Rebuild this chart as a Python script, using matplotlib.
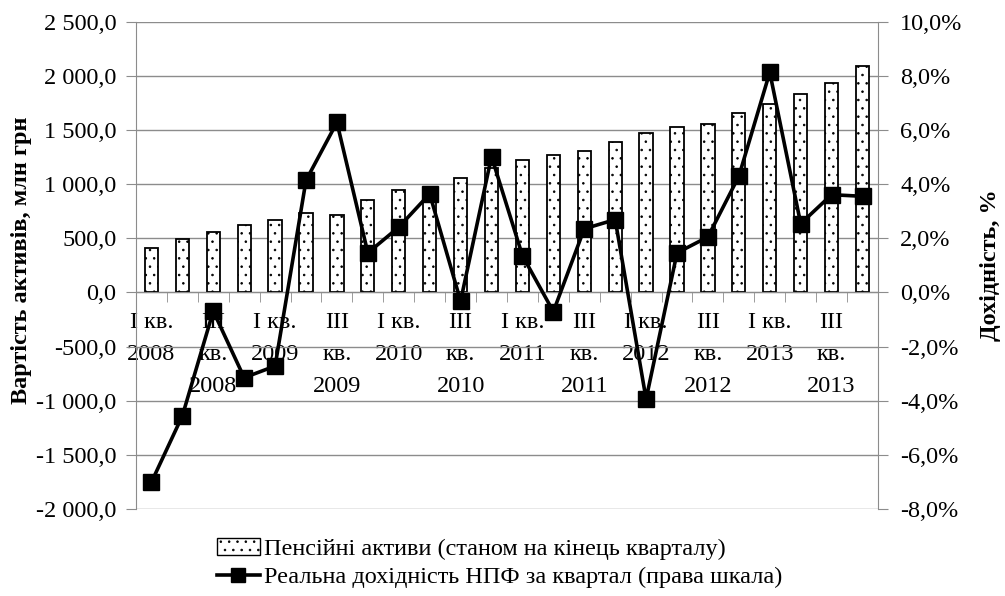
import numpy as np
import matplotlib
matplotlib.use("Agg")
import matplotlib.pyplot as plt
from matplotlib.ticker import FuncFormatter, FixedLocator
from matplotlib.lines import Line2D
from matplotlib.patches import Patch

plt.rcParams['font.family'] = ['Liberation Serif', 'DejaVu Serif']
plt.rcParams['font.size'] = 17.5
plt.rcParams['hatch.linewidth'] = 0.6

quarters = ["I кв.\n2008", "II кв.\n2008", "III\nкв.\n2008", "IV кв.\n2008",
            "I кв.\n2009", "II кв.\n2009", "III\nкв.\n2009", "IV кв.\n2009",
            "I кв.\n2010", "II кв.\n2010", "III\nкв.\n2010", "IV кв.\n2010",
            "I кв.\n2011", "II кв.\n2011", "III\nкв.\n2011", "IV кв.\n2011",
            "I кв.\n2012", "II кв.\n2012", "III\nкв.\n2012", "IV кв.\n2012",
            "I кв.\n2013", "II кв.\n2013", "III\nкв.\n2013", "IV кв.\n2013"]

# pension assets, mln UAH (end of quarter)
assets = [412, 489, 556, 621, 671, 735, 717, 858, 944, 905, 1058, 1150,
          1221, 1270, 1310, 1393, 1470, 1528, 1556, 1658, 1737, 1830, 1937, 2091]

# real quarterly return of NPF, %
returns = [-7.01, -4.56, -0.69, -3.15, -2.72, 4.14, 6.28, 1.46, 2.41, 3.64, -0.32, 5.02,
           1.36, -0.71, 2.35, 2.69, -3.94, 1.46, 2.05, 4.29, 8.13, 2.54, 3.61, 3.55]

grey = '#8c8c8c'
x = np.arange(len(quarters))

fig = plt.figure(figsize=(10.05, 5.96), dpi=100)
ax = fig.add_axes([0.1353, 0.146, 0.7383, 0.8176])
ax2 = ax.twinx()

ax.bar(x, assets, width=0.43, color='white', edgecolor='black', linewidth=1.3,
       hatch='..', zorder=2)
ax.set_ylim(-2000, 2500)
ax.set_yticks(np.arange(-2000, 2501, 500))
ax.set_xlim(-0.5, len(quarters) - 0.5)
ax.grid(axis='y', color=grey, linewidth=1, zorder=0)
ax.set_axisbelow(True)


def fmt_left(v, pos):
    s = f"{abs(v):,.1f}".replace(",", " ").replace(".", ",")
    return ("-" if v < 0 else "") + s


ax.yaxis.set_major_formatter(FuncFormatter(fmt_left))
ax.tick_params(axis='y', direction='out', length=7, color=grey, pad=7)

ax.spines['bottom'].set_position(('data', 0))
ax.spines['bottom'].set_color(grey)
ax.spines['left'].set_color(grey)
ax.spines['top'].set_visible(False)
ax.spines['right'].set_visible(False)

# only every second quarter is labelled
ax.xaxis.set_major_locator(FixedLocator(x[::2]))
ax.set_xticklabels(quarters[::2], linespacing=1.68, va='top')
ax.xaxis.set_minor_locator(FixedLocator(np.arange(-0.5, len(quarters), 1.0)))
ax.tick_params(axis='x', which='major', length=0, pad=14)
ax.tick_params(axis='x', which='minor', direction='out', length=7, color=grey)

ax2.plot(x, returns, color='black', linewidth=2.6, marker='s', markersize=12,
         markerfacecolor='black', zorder=3)
ax2.set_ylim(-8, 10)
ax2.set_yticks(np.arange(-8, 10.1, 2))
ax2.yaxis.set_major_formatter(FuncFormatter(lambda v, p: f"{v:.1f}%".replace(".", ",")))
ax2.tick_params(axis='y', direction='out', length=7, color=grey, pad=9)
for s in ['top', 'bottom', 'left']:
    ax2.spines[s].set_visible(False)
ax2.spines['right'].set_color(grey)

ax.set_ylabel("Вартість активів, млн грн", fontweight='bold')
ax.yaxis.set_label_coords(-0.140, 0.51)
ax2.set_ylabel("Дохідність, %", fontweight='bold', rotation=90)
ax2.yaxis.set_label_coords(1.137, 0.5)

handles = [Patch(facecolor='white', edgecolor='black', hatch='..', linewidth=1.0),
           Line2D([], [], color='black', linewidth=2.6, marker='s', markersize=10)]
labels = ["Пенсійні активи (станом на кінець кварталу)",
          "Реальна дохідність НПФ за квартал (права шкала)"]
fig.legend(handles, labels, loc='center', bbox_to_anchor=(0.497, 0.055), frameon=False,
           handlelength=1.8, handletextpad=0.15, labelspacing=0.25, borderpad=0)

fig.savefig("out.png", dpi=100)
